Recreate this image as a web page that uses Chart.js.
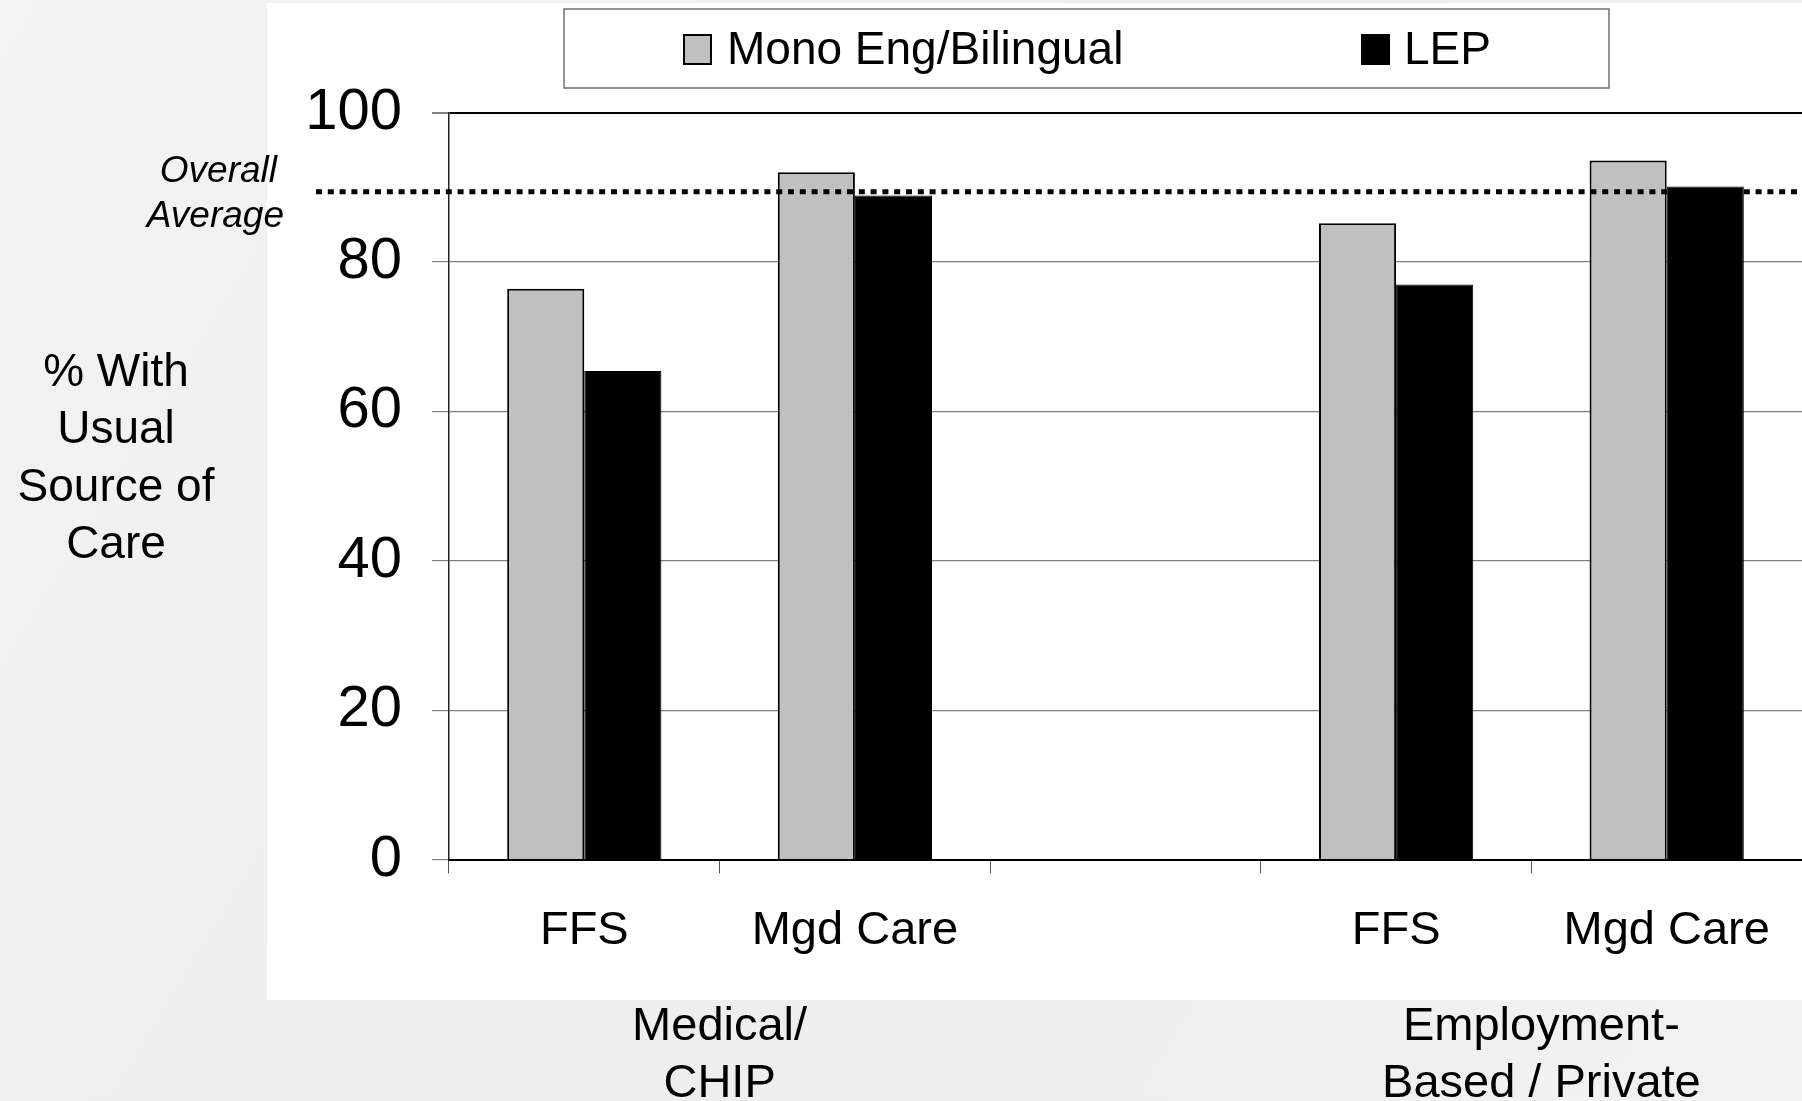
<!DOCTYPE html>
<html>
<head>
<meta charset="utf-8">
<title>% With Usual Source of Care</title>
<script src="https://cdn.jsdelivr.net/npm/chart.js@4/dist/chart.umd.min.js"></script>
<style>
  html, body { margin: 0; padding: 0; background: #f1f1f1; }
  #wrap { position: relative; width: 1802px; height: 1101px; }
  canvas { display: block; }
</style>
</head>
<body>
<div id="wrap"><canvas id="c" width="1802" height="1101"></canvas></div>
<script>
// Categories along the x axis (the middle slot is an empty spacer between groups)
const categories = ['FFS', 'Mgd Care', '', 'FFS', 'Mgd Care'];
// Insurance groups and the category indexes each one spans
const groupLabels = [['Medical/', 'CHIP'], ['Employment-', 'Based / Private']];
const groupSpans = [[0, 1], [3, 4]];
// Series values (% with a usual source of care)
const monoEngBilingual = [76.4, 92.0, null, 85.2, 93.6];
const lep = [65.4, 88.9, null, 77.0, 90.1];
const seriesNames = ['Mono Eng/Bilingual', 'LEP'];
// Reference line
const overallAverage = 89.4;
const averageLabel = ['Overall', 'Average'];
// Axis
const yTicks = [0, 20, 40, 60, 80, 100];
const yTitle = ['% With', 'Usual', 'Source of', 'Care'];

const FONT = '"Liberation Sans", Arial, Helvetica, sans-serif';
const GREY = '#c0c0c0';

// Page backdrop and the white chart panel
const panelPlugin = {
  id: 'panel',
  beforeDraw(chart) {
    const ctx = chart.ctx;
    ctx.save();
    const g = ctx.createLinearGradient(0, 0, chart.width, chart.height);
    g.addColorStop(0, '#f3f3f3');
    g.addColorStop(0.5, '#eeeeee');
    g.addColorStop(1, '#f2f2f2');
    ctx.fillStyle = g;
    ctx.fillRect(0, 0, chart.width, chart.height);
    ctx.fillStyle = '#ffffff';
    ctx.fillRect(267, 3, chart.width - 267, 997);
    ctx.restore();
  }
};

// Dotted overall-average line plus its label
const averagePlugin = {
  id: 'average',
  afterDatasetsDraw(chart) {
    const ctx = chart.ctx;
    const y = chart.scales.y.getPixelForValue(overallAverage);
    ctx.save();
    ctx.strokeStyle = '#000';
    ctx.lineWidth = 5;
    ctx.setLineDash([6, 5.8]);
    ctx.beginPath();
    ctx.moveTo(316, y);
    ctx.lineTo(chart.width, y);
    ctx.stroke();
    ctx.setLineDash([]);
    ctx.fillStyle = '#000';
    ctx.font = 'italic 37px ' + FONT;
    ctx.textAlign = 'right';
    ctx.textBaseline = 'middle';
    ctx.fillText(averageLabel[0], 277, y - 20);
    ctx.fillText(averageLabel[1], 284, y + 25);
    ctx.restore();
  }
};

// Legend box, axis title and group labels
const textPlugin = {
  id: 'texts',
  afterDraw(chart) {
    const ctx = chart.ctx;
    const area = chart.chartArea;
    const xs = chart.scales.x;
    ctx.save();

    // legend
    ctx.fillStyle = '#fff';
    ctx.fillRect(564, 9, 1045, 79);
    ctx.strokeStyle = '#707070';
    ctx.lineWidth = 1.5;
    ctx.strokeRect(564, 9, 1045, 79);
    const ds = chart.data.datasets;
    const items = [{ box: 684, text: 727 }, { box: 1362, text: 1404 }];
    ctx.font = '46px ' + FONT;
    ctx.textAlign = 'left';
    ctx.textBaseline = 'middle';
    items.forEach((it, i) => {
      ctx.fillStyle = ds[i].backgroundColor;
      ctx.fillRect(it.box, 35, 27, 29);
      ctx.strokeStyle = '#000';
      ctx.lineWidth = 2;
      ctx.strokeRect(it.box, 35, 27, 29);
      ctx.fillStyle = '#000';
      ctx.fillText(ds[i].label, it.text, 51.5);
    });

    // y-axis title
    ctx.font = '46px ' + FONT;
    ctx.textAlign = 'center';
    const mid = (area.top + area.bottom) / 2;
    const offs = [-113, -56, 2, 59];
    yTitle.forEach((t, i) => ctx.fillText(t, 116, mid + offs[i]));

    // group labels under the categories
    ctx.font = '47px ' + FONT;
    const nudge = [0, 10];
    groupLabels.forEach((lines, gi) => {
      const [a, b] = groupSpans[gi];
      const cx = (xs.getPixelForValue(a) + xs.getPixelForValue(b)) / 2 + nudge[gi];
      lines.forEach((t, li) => ctx.fillText(t, cx, area.bottom + 167.5 + li * 57));
    });
    ctx.restore();
  }
};

new Chart(document.getElementById('c'), {
  type: 'bar',
  data: {
    labels: categories,
    datasets: [
      {
        label: seriesNames[0],
        data: monoEngBilingual,
        backgroundColor: GREY,
        borderColor: '#000',
        borderWidth: 2,
        categoryPercentage: 0.57,
        barPercentage: 1.0
      },
      {
        label: seriesNames[1],
        data: lep,
        backgroundColor: '#000',
        borderColor: '#000',
        borderWidth: 1,
        categoryPercentage: 0.57,
        barPercentage: 1.0
      }
    ]
  },
  options: {
    responsive: false,
    devicePixelRatio: 1,
    animation: false,
    layout: { padding: { top: 112.6, left: 0, right: 0, bottom: 0 } },
    plugins: {
      legend: { display: false },
      tooltip: { enabled: false }
    },
    scales: {
      x: {
        offset: true,
        grid: {
          display: true,
          offset: true,
          drawOnChartArea: false,
          drawTicks: true,
          tickLength: 14,
          color: '#555',
          lineWidth: 1
        },
        border: { display: true, color: '#000', width: 2 },
        ticks: {
          font: { family: FONT, size: 47 },
          color: '#000',
          padding: 29.5,
          maxRotation: 0,
          autoSkip: false
        },
        afterFit(s) { s.height = 241.5; }
      },
      y: {
        min: 0,
        max: 100,
        afterBuildTicks(s) { s.ticks = yTicks.map(v => ({ value: v })); },
        grid: {
          color: ctx => (ctx.tick && ctx.tick.value === 100 ? '#000' : '#808080'),
          lineWidth: ctx => (ctx.tick && ctx.tick.value === 100 ? 2 : 1.2),
          tickColor: '#808080',
          tickLength: 17,
          drawTicks: true
        },
        border: { display: true, color: '#222', width: 1.5 },
        ticks: {
          font: { family: FONT, size: 58 },
          color: '#000',
          padding: 30
        },
        afterFit(s) { s.width = 449; }
      }
    }
  },
  plugins: [panelPlugin, averagePlugin, textPlugin]
});
</script>
</body>
</html>
